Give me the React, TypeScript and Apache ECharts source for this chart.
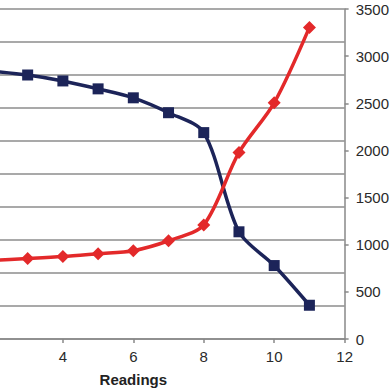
import React, { useEffect, useRef } from "react";
import * as echarts from "echarts";

const readings = [1, 2, 3, 4, 5, 6, 7, 8, 9, 10, 11];
const blueValues = [2870, 2840, 2800, 2737, 2653, 2558, 2400, 2189, 1137, 779, 358];
const redValues = [820, 835, 853, 874, 905, 937, 1042, 1210, 1979, 2505, 3305];

const OFFSET = 81;

export default function App() {
  const ref = useRef<HTMLDivElement>(null);
  useEffect(() => {
    const chart = echarts.init(ref.current!, null, { renderer: "svg" });
    const font = "'Liberation Sans', Arial, sans-serif";
    chart.setOption({
      animation: false,
      grid: { left: 0, right: 47, top: 9, bottom: 50 },
      xAxis: {
        type: "value",
        min: 0,
        max: 12,
        interval: 2,
        name: "Readings",
        nameLocation: "middle",
        nameGap: 33,
        nameTextStyle: { fontFamily: font, fontSize: 15, fontWeight: "bold", color: "#222" },
        axisLine: { lineStyle: { color: "#888", width: 1.5 } },
        axisTick: { show: true, length: 4, lineStyle: { color: "#888", width: 1.5 } },
        axisLabel: {
          fontFamily: font,
          fontSize: 15,
          color: "#2a2a2a",
          margin: 10,
          formatter: (v: number) => (v < 4 ? "" : String(v)),
        },
        splitLine: { show: false },
      },
      yAxis: [
        {
          type: "value",
          min: 0,
          max: 10,
          interval: 1,
          position: "left",
          axisLine: { show: false },
          axisTick: { show: false },
          axisLabel: { show: false },
          splitLine: { show: true, lineStyle: { color: "#8c8c8c", width: 1.5 } },
        },
        {
          type: "value",
          min: 0,
          max: 3500,
          interval: 500,
          position: "right",
          axisLine: { show: true, lineStyle: { color: "#888", width: 1.5 } },
          axisTick: { show: true, length: 4, lineStyle: { color: "#888", width: 1.5 } },
          axisLabel: {
            fontFamily: font,
            fontSize: 15,
            color: "#2a2a2a",
            margin: 11,
            formatter: (v: number) => String(v),
          },
          splitLine: { show: false },
        },
      ],
      series: [
        {
          type: "line",
          yAxisIndex: 1,
          data: readings.map((r, i) => [r, blueValues[i]]),
          smooth: 0.3,
          symbol: "rect",
          symbolSize: 11,
          lineStyle: { color: "#1c2459", width: 3.5 },
          itemStyle: { color: "#1c2459" },
        },
        {
          type: "line",
          yAxisIndex: 1,
          data: readings.map((r, i) => [r, redValues[i]]),
          smooth: 0.3,
          symbol: "diamond",
          symbolSize: 13,
          lineStyle: { color: "#e3292a", width: 3.5 },
          itemStyle: { color: "#e3292a" },
        },
      ],
    });
    return () => chart.dispose();
  }, []);
  return (
    <div style={{ position: "absolute", left: 0, top: 0, width: 392, height: 392, overflow: "hidden" }}>
      <div ref={ref} style={{ width: 392 + OFFSET, height: 392, position: "absolute", left: -OFFSET, top: 0 }} />
    </div>
  );
}
